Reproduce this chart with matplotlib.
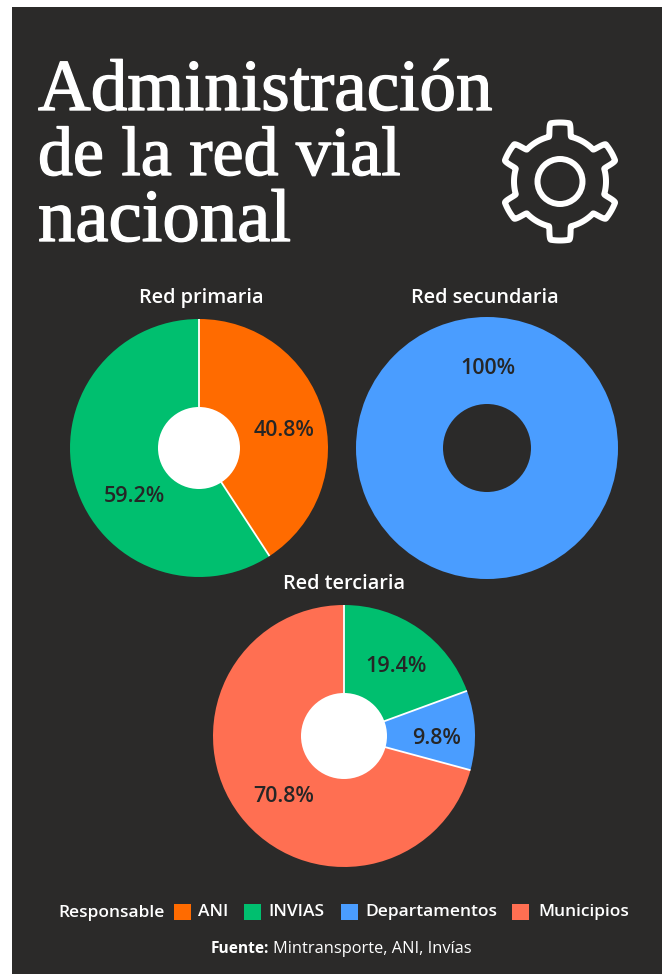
import numpy as np
import matplotlib
matplotlib.use("Agg")
import matplotlib.pyplot as plt
import matplotlib.patheffects as pe
from matplotlib.patches import Circle, Rectangle, Polygon

# Shares of the national road network by administrator
primaria_vals = [40.8, 59.2]
primaria_colors = ['#FF6B00', '#00BF6F']
secundaria_vals = [100]
secundaria_colors = ['#4A9DFF']
terciaria_vals = [19.4, 9.8, 70.8]
terciaria_colors = ['#00BF6F', '#4A9DFF', '#FF6F52']

legend_names = ['ANI', 'INVIAS', 'Departamentos', 'Municipios']
legend_colors = ['#FF6B00', '#00BF6F', '#4A9DFF', '#FF6F52']

BG = '#2B2A29'
W, H = 662, 974

fig = plt.figure(figsize=(W / 100, H / 100), dpi=100, facecolor='white')

# full figure axes working in pixels, y going down
canvas = fig.add_axes([0, 0, 1, 1], zorder=0)
canvas.set_xlim(0, W)
canvas.set_ylim(H, 0)
canvas.axis('off')
canvas.add_patch(Rectangle((12, 7), W - 12, H - 7, color=BG, lw=0))

# text goes on its own axes so it sits above the pies
top = fig.add_axes([0, 0, 1, 1], zorder=5)
top.set_xlim(0, W)
top.set_ylim(H, 0)
top.axis('off')
top.patch.set_alpha(0)


def donut(vals, colors, cx, cy, r, hole_r, hole_color):
    ax = fig.add_axes([(cx - r) / W, 1 - (cy + r) / H, 2 * r / W, 2 * r / H], zorder=2)
    wedges, _ = ax.pie(vals, colors=colors, startangle=90, counterclock=False, radius=1,
                       wedgeprops={'linewidth': 0})
    ax.set_xlim(-1, 1)
    ax.set_ylim(-1, 1)
    # white separators between slices only, no outer rim
    if len(vals) > 1:
        for w in wedges:
            a = np.deg2rad(w.theta2)
            ax.plot([0, np.cos(a)], [0, np.sin(a)], color='white', lw=1.3, zorder=2,
                    solid_capstyle='butt')
    ax.add_patch(Circle((0, 0), hole_r / r, color=hole_color, lw=0, zorder=3))


donut(primaria_vals, primaria_colors, 199, 448, 129, 41, 'white')
donut(secundaria_vals, secundaria_colors, 487, 448, 131, 44, BG)
donut(terciaria_vals, terciaria_colors, 344, 736, 131, 43, 'white')

# title, thickened a little with a stroke
thick = [pe.withStroke(linewidth=1.0, foreground='white')]
for line, y, size in zip(['Administración', 'de la red vial', 'nacional'], [110, 175, 241], [52.6, 50.3, 53.8]):
    top.text(38, y, line, color='white', fontsize=size, family='Liberation Serif',
             va='baseline', ha='left', path_effects=thick)

# chart headings
for name, x, y in [('Red primaria', 201, 298), ('Red secundaria', 485, 298), ('Red terciaria', 344, 584)]:
    top.text(x, y, name, color='white', fontsize=14.3, family='Open Sans', weight='semibold',
             ha='center', va='center')

# value labels
pct_labels = [('40.8%', 284, 431), ('59.2%', 134, 496), ('100%', 488, 369),
              ('19.4%', 396, 666), ('9.8%', 437, 738), ('70.8%', 284, 796)]
for txt, x, y in pct_labels:
    top.text(x, y, txt, color='#262626', fontsize=15.5, family='Open Sans', weight='semibold',
             ha='center', va='center')

# legend row
top.text(58, 913, 'Responsable', color='white', fontsize=12.5, family='Open Sans',
         weight='semibold', ha='left', va='center')
for name, col, sx, tx in zip(legend_names, legend_colors, [174, 244, 341, 512], [198, 268, 365, 538]):
    top.add_patch(Rectangle((sx, 904), 17, 16, color=col, lw=0))
    top.text(tx, 912, name, color='white', fontsize=12.5, family='Open Sans',
             weight='semibold', ha='left', va='center')

# source line
top.text(211, 949, 'Fuente:', color='white', fontsize=11.2, family='Open Sans', weight='bold',
         ha='left', va='center')
top.text(273, 949, 'Mintransporte, ANI, Invías', color='white', fontsize=11.8, family='Open Sans',
         ha='left', va='center')

# gear icon: six flat-topped teeth around a ring
gx, gy = 560, 181.5
ang = np.linspace(0, 2 * np.pi, 1440, endpoint=False)
wave = np.clip((np.cos(6 * ang) - 0.1) / 0.5, 0, 1)
wave = wave * wave * (3 - 2 * wave)
rad = 46 + 13 * wave
gear = np.column_stack([gx + rad * np.sin(ang), gy - rad * np.cos(ang)])
top.add_patch(Polygon(gear, closed=True, fill=False, edgecolor='white', lw=4.3, joinstyle='round'))
top.add_patch(Circle((gx, gy), 22.5, fill=False, edgecolor='white', lw=4.3))

fig.savefig('out.png', dpi=100, facecolor='white')
